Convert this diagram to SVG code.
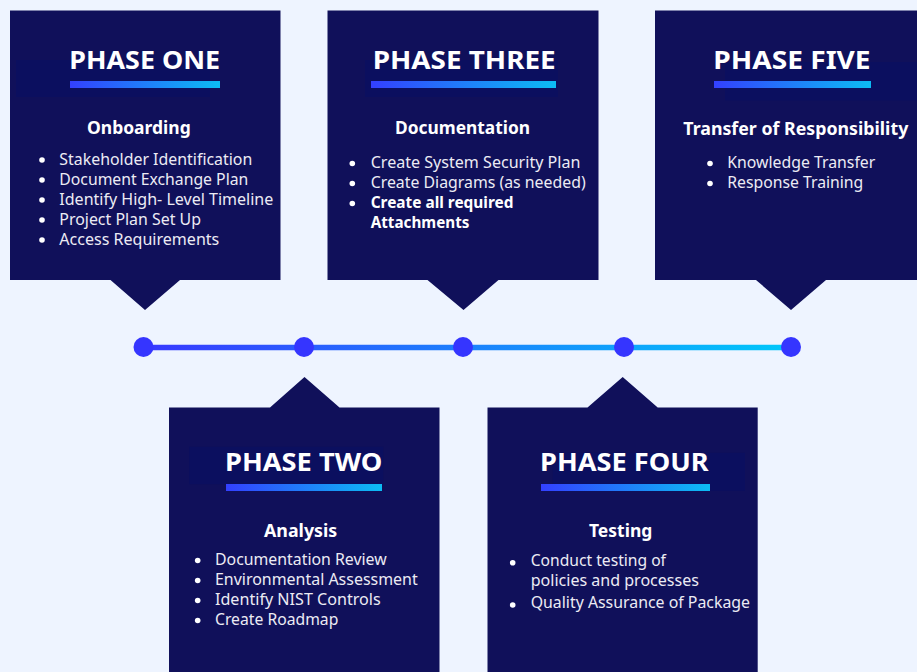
<svg xmlns="http://www.w3.org/2000/svg" width="917" height="672" viewBox="0 0 917 672">
  <defs>
    <linearGradient id="barGrad" x1="0" y1="0" x2="1" y2="0">
      <stop offset="0" stop-color="#3340ff"/>
      <stop offset="1" stop-color="#0cbcf4"/>
    </linearGradient>
    <linearGradient id="lineGrad" gradientUnits="userSpaceOnUse" x1="143" y1="0" x2="791" y2="0">
      <stop offset="0" stop-color="#3838ff"/>
      <stop offset="1" stop-color="#00c8fa"/>
    </linearGradient>
    <style>
      .box { fill: #10105a; }
      .hl { fill: #0b0f5f; }
      .bar { fill: url(#barGrad); }
      .title { font-family: "Noto Sans", "Liberation Sans", sans-serif; font-weight: bold; font-size: 25.5px; fill: #ffffff; }
      .head { font-family: "Noto Sans", "Liberation Sans", sans-serif; font-weight: bold; font-size: 17px; fill: #ffffff; }
      .item { font-family: "Noto Sans", "Liberation Sans", sans-serif; font-size: 15.5px; fill: #ecebf4; }
      .itemb { font-family: "Noto Sans", "Liberation Sans", sans-serif; font-weight: bold; font-size: 15.5px; fill: #ffffff; }
      .dot { fill: #ffffff; }
      .node { fill: #3535ff; }
    </style>
  </defs>

  <rect x="0" y="0" width="917" height="672" fill="#eef4ff"/>

  <g id="connectors">
    <line x1="143" y1="347.5" x2="791" y2="347.5" stroke="url(#lineGrad)" stroke-width="5.5"/>
    <circle class="node" cx="143.5" cy="347" r="10"/>
    <circle class="node" cx="304" cy="347" r="10"/>
    <circle class="node" cx="463" cy="347" r="10"/>
    <circle class="node" cx="624" cy="347" r="10"/>
    <circle class="node" cx="791" cy="347" r="10"/>
  </g>

  <g id="phase-one">
    <path class="box" d="M10,10.5 H280.5 V280 H180 L145,310 L110.5,280 H10 Z"/>
    <rect class="hl" x="16" y="60" width="194" height="37"/>
    <text class="title" x="69.3" y="68.5" textLength="150.7" lengthAdjust="spacingAndGlyphs">PHASE ONE</text>
    <rect class="bar" x="70" y="81" width="150" height="7"/>
    <text class="head" x="87" y="133.5" textLength="103.7" lengthAdjust="spacingAndGlyphs">Onboarding</text>
    <circle class="dot" cx="42" cy="160" r="2.8"/>
    <text class="item" x="59.3" y="165" textLength="193" lengthAdjust="spacingAndGlyphs">Stakeholder Identification</text>
    <circle class="dot" cx="42" cy="180" r="2.8"/>
    <text class="item" x="59.3" y="185" textLength="189" lengthAdjust="spacingAndGlyphs">Document Exchange Plan</text>
    <circle class="dot" cx="42" cy="200" r="2.8"/>
    <text class="item" x="59.3" y="205" textLength="214" lengthAdjust="spacingAndGlyphs">Identify High- Level Timeline</text>
    <circle class="dot" cx="42" cy="220" r="2.8"/>
    <text class="item" x="59.3" y="225" textLength="141.7" lengthAdjust="spacingAndGlyphs">Project Plan Set Up</text>
    <circle class="dot" cx="42" cy="240" r="2.8"/>
    <text class="item" x="59.3" y="245" textLength="160" lengthAdjust="spacingAndGlyphs">Access Requirements</text>
  </g>

  <g id="phase-three">
    <path class="box" d="M327.5,10.5 H598.5 V280 H498.5 L463.5,310 L427.5,280 H327.5 Z"/>
    <rect class="hl" x="365" y="60" width="193" height="37"/>
    <text class="title" x="372.7" y="68.5" textLength="183" lengthAdjust="spacingAndGlyphs">PHASE THREE</text>
    <rect class="bar" x="371" y="81" width="185" height="7"/>
    <text class="head" x="395" y="133.5" textLength="135" lengthAdjust="spacingAndGlyphs">Documentation</text>
    <circle class="dot" cx="352.3" cy="163.5" r="2.8"/>
    <text class="item" x="370.7" y="168.3" textLength="209.7" lengthAdjust="spacingAndGlyphs">Create System Security Plan</text>
    <circle class="dot" cx="352.3" cy="183.5" r="2.8"/>
    <text class="item" x="370.7" y="188.3" textLength="215" lengthAdjust="spacingAndGlyphs">Create Diagrams (as needed)</text>
    <circle class="dot" cx="352.3" cy="203.5" r="2.8"/>
    <text class="itemb" x="370.7" y="208.3" textLength="142.7" lengthAdjust="spacingAndGlyphs">Create all required</text>
    <text class="itemb" x="370.7" y="228.3" textLength="98.7" lengthAdjust="spacingAndGlyphs">Attachments</text>
  </g>

  <g id="phase-five">
    <path class="box" d="M655,10.5 H920 V280 H826 L791,310 L756,280 H655 Z"/>
    <rect class="hl" x="725" y="62" width="195" height="38.5"/>
    <text class="title" x="713.3" y="68.5" textLength="157.3" lengthAdjust="spacingAndGlyphs">PHASE FIVE</text>
    <rect class="bar" x="714" y="81" width="157" height="7"/>
    <text class="head" x="683.3" y="135" textLength="225" lengthAdjust="spacingAndGlyphs">Transfer of Responsibility</text>
    <circle class="dot" cx="710" cy="163.5" r="2.8"/>
    <text class="item" x="727.3" y="168.3" textLength="148" lengthAdjust="spacingAndGlyphs">Knowledge Transfer</text>
    <circle class="dot" cx="710" cy="183.5" r="2.8"/>
    <text class="item" x="727.3" y="188.3" textLength="136" lengthAdjust="spacingAndGlyphs">Response Training</text>
  </g>

  <g id="phase-two">
    <path class="box" d="M169,407.5 H270 L304.5,377 L339.5,407.5 H439.5 V672 H169 Z"/>
    <rect class="hl" x="189.3" y="446.7" width="194" height="37.6"/>
    <text class="title" x="225" y="471" textLength="157.3" lengthAdjust="spacingAndGlyphs">PHASE TWO</text>
    <rect class="bar" x="226" y="484" width="156" height="7"/>
    <text class="head" x="264" y="536.7" textLength="73.3" lengthAdjust="spacingAndGlyphs">Analysis</text>
    <circle class="dot" cx="197.7" cy="560.5" r="2.8"/>
    <text class="item" x="215" y="565" textLength="171.7" lengthAdjust="spacingAndGlyphs">Documentation Review</text>
    <circle class="dot" cx="197.7" cy="580.5" r="2.8"/>
    <text class="item" x="215" y="585" textLength="202.7" lengthAdjust="spacingAndGlyphs">Environmental Assessment</text>
    <circle class="dot" cx="197.7" cy="600.5" r="2.8"/>
    <text class="item" x="215" y="605" textLength="165.7" lengthAdjust="spacingAndGlyphs">Identify NIST Controls</text>
    <circle class="dot" cx="197.7" cy="620.5" r="2.8"/>
    <text class="item" x="215" y="625" textLength="123.3" lengthAdjust="spacingAndGlyphs">Create Roadmap</text>
  </g>

  <g id="phase-four">
    <path class="box" d="M487.5,407.5 H587.5 L622.7,377 L657.7,407.5 H757.7 V672 H487.5 Z"/>
    <rect class="hl" x="552.7" y="452.7" width="192.3" height="38"/>
    <text class="title" x="540" y="471" textLength="168.7" lengthAdjust="spacingAndGlyphs">PHASE FOUR</text>
    <rect class="bar" x="541" y="484" width="169" height="7"/>
    <text class="head" x="589" y="536.7" textLength="63.3" lengthAdjust="spacingAndGlyphs">Testing</text>
    <circle class="dot" cx="512.7" cy="562.7" r="2.8"/>
    <text class="item" x="530.7" y="566" textLength="135.3" lengthAdjust="spacingAndGlyphs">Conduct testing of</text>
    <text class="item" x="530.7" y="586" textLength="168.3" lengthAdjust="spacingAndGlyphs">policies and processes</text>
    <circle class="dot" cx="512.7" cy="605" r="2.8"/>
    <text class="item" x="530.7" y="608.3" textLength="219.3" lengthAdjust="spacingAndGlyphs">Quality Assurance of Package</text>
  </g>
</svg>
